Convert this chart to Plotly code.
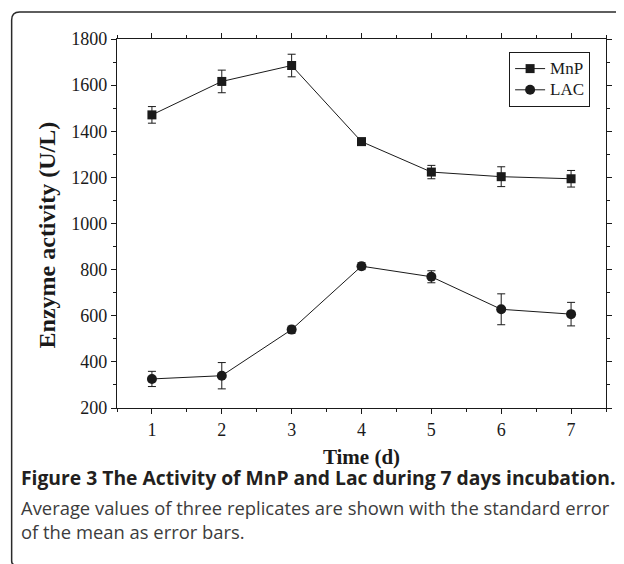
import plotly.graph_objs as go

# Daten
days = [1, 2, 3, 4, 5, 6, 7]
mnp = [1471, 1616, 1685, 1355, 1223, 1203, 1194]
mnp_err = [36, 49, 49, 15, 29, 43, 36]
lac = [326, 340, 540, 815, 769, 628, 607]
lac_err = [33, 57, 15, 15, 26, 67, 51]

x_ticks = [1, 2, 3, 4, 5, 6, 7]
y_ticks = [200, 400, 600, 800, 1000, 1200, 1400, 1600, 1800]

caption_title = "Figure 3 The Activity of MnP and Lac during 7 days incubation."
caption_lines = [
    "Average values of three replicates are shown with the standard error",
    "of the mean as error bars.",
]

serif = "Liberation Serif"
ink = "#1a1a1a"

# Seite hat 8px Body-Rand -> Figur 8px kleiner, alles um 8px verschoben
W, H = 616, 556
L, R, T, B = 109, 15, 31, 156
pw, ph = W - L - R, H - T - B


def px_x(x):
    return (x - L) / pw


def px_y(y):
    return (H - B - y) / ph


def legend_name(text):
    # groessere Schrift, aber enger Zeilenabstand der Legende
    return f'<span style="font-size:17px">{text}</span>'


fig = go.Figure()

fig.add_trace(
    go.Scatter(
        x=days, y=mnp,
        mode='lines+markers',
        name=legend_name('MnP'),
        line=dict(color=ink, width=1),
        marker=dict(symbol='square', size=9, color=ink),
        error_y=dict(type='data', array=mnp_err, color=ink, thickness=1, width=4),
    )
)

fig.add_trace(
    go.Scatter(
        x=days, y=lac,
        mode='lines+markers',
        name=legend_name('LAC'),
        line=dict(color=ink, width=1),
        marker=dict(symbol='circle', size=10, color=ink),
        error_y=dict(type='data', array=lac_err, color=ink, thickness=1, width=4),
    )
)

axis_common = dict(
    showline=True, linecolor=ink, linewidth=1.2, mirror='ticks',
    ticks='outside', ticklen=5, tickwidth=1, tickcolor=ink,
    showgrid=False, zeroline=False,
    tickfont=dict(family=serif, size=18, color=ink),
)

fig.update_xaxes(
    range=[0.5, 7.5], tickvals=x_ticks,
    minor=dict(ticks='outside', ticklen=3, dtick=0.5, tick0=0.5, tickcolor=ink),
    title=dict(text='<b>Time (d)</b>', font=dict(family=serif, size=21, color=ink), standoff=10),
    **axis_common,
)
fig.update_yaxes(
    range=[200, 1800], tickvals=y_ticks,
    minor=dict(ticks='outside', ticklen=3, dtick=100, tickcolor=ink),
    **axis_common,
)

annotations = [
    dict(text='<b>Enzyme activity (U/L)</b>', x=px_x(39), y=px_y(227),
         xanchor='center', textangle=-90,
         font=dict(family=serif, size=24, color=ink)),
    dict(text=f'<b>{caption_title}</b>', x=px_x(10), y=px_y(470),
         font=dict(family='Open Sans', size=19.3, color='#231f20')),
    dict(text=caption_lines[0], x=px_x(10), y=px_y(499),
         font=dict(family='Open Sans', size=18.4, color='#3c3c3c')),
    dict(text=caption_lines[1], x=px_x(10), y=px_y(523),
         font=dict(family='Open Sans', size=18.4, color='#3c3c3c')),
]
for a in annotations:
    a.setdefault('xanchor', 'left')
    a.update(xref='paper', yref='paper', yanchor='middle', showarrow=False)

# abgerundeter Rahmen um die Abbildung
fl, ft, fr, fb, r = px_x(3), px_y(4), px_x(640), px_y(557), 8
frame = (
    f"M {fl + 4 / pw},{fb} Q {fl},{fb} {fl},{fb + 4 / ph} "
    f"L {fl},{ft - r / ph} "
    f"Q {fl},{ft} {fl + r / pw},{ft} L {fr},{ft}"
)

fig.update_layout(
    width=W, height=H,
    margin=dict(l=L, r=R, t=T, b=B),
    paper_bgcolor='white', plot_bgcolor='white',
    showlegend=True,
    legend=dict(
        x=px_x(585), y=px_y(44), xanchor='right', yanchor='top',
        bordercolor=ink, borderwidth=1, bgcolor='white',
        font=dict(family=serif, size=14, color=ink),
        tracegroupgap=0, itemwidth=30,
    ),
    annotations=annotations,
    shapes=[dict(type='path', path=frame, xref='paper', yref='paper',
                 line=dict(color='#2a2a2a', width=1.5))],
)

fig.write_html("out.html")
